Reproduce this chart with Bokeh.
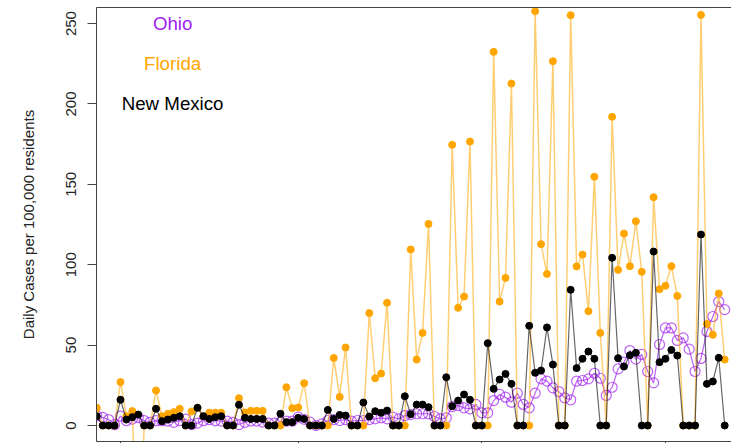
from bokeh.plotting import figure
from bokeh.models import Range1d, FixedTicker, LinearAxis, ColumnDataSource
from bokeh.core.properties import value
from bokeh.embed import file_html
from bokeh.resources import INLINE

# ---- data (day index, daily cases per 100,000 residents) ----
days = list(range(107))

florida = [11, 0, 0, 0, 27, 5.8, 9, -100, 0, 0,
           21.8, 5.8, 7.3, 8.3, 10.4, 0, 8.7, 11, 5.8, 8,
           8, 8, 0, 0, 17, 8.1, 9.1, 9.1, 9.1, 0,
           0, 0, 23.8, 10.8, 11.2, 26.3, 0, 0, 0, 0,
           42, 17.8, 48.5, 0, 0, 0, 69.9, 29.4, 32.3, 76.3,
           0, 0, 0, 109.5, 41, 57.6, 125.4, 0, 0, 0,
           174.6, 73.2, 80.2, 176.6, 0, 0, 0, 232.4, 77.1, 91.8,
           212.7, 0, 0, 0, 257.7, 112.8, 94.3, 226.6, 0, 0,
           255.2, 98.9, 106.3, 71.1, 154.7, 57.6, 0, 192, 96.8, 119.4,
           99.1, 127, 95.6, 0, 142, 84.8, 86.9, 99.1, 80.6, 0,
           0, 0, 255.4, 63.2, 56.4, 82.1, 41]

new_mexico = [5.8, 0, 0, 0, 16, 3.7, 5.2, 6.8, 0, 0,
              10.4, 2.7, 3.7, 4.8, 5.8, 0, 0, 11, 5.8, 4.1,
              5.2, 5.8, 0, 0, 12.9, 4.8, 4.1, 4.1, 4.1, 0,
              0, 7.3, 2.1, 2.1, 4.8, 4.1, 0, 0, 0, 9.7,
              4.1, 6.6, 6.2, 0, 0, 14.3, 5.6, 8.9, 7.9, 9.3,
              0, 0, 18.2, 7, 13, 13, 11.4, 0, 0, 30,
              12, 15.5, 19.3, 16, 0, 0, 51.2, 22.8, 28.6, 32.1,
              25.9, 0, 0, 62, 32.8, 34.2, 61, 37.9, 0, 0,
              84.4, 35.7, 41.5, 46, 41.5, 0, 0, 104.3, 41.9, 36.7,
              43.7, 45.2, 0, 0, 108.2, 39.4, 41.5, 47, 43.5, 0,
              0, 0, 118.8, 25.9, 27.4, 42.1, 0]

ohio = [6, 5, 3.7, 0.5, 5.8, 3, 4, 5, 3, 2,
        3, 3, 2.7, 2, 3, 4, 0.6, 1.5, 3, 3.7,
        3, 2.7, 2.7, 2, 0.6, 2, 2.7, 2.7, 2.1, 1.5,
        1.5, 2.1, 2.7, 2.7, 5.2, 3.9, 2.1, 0, 1, 3.1,
        3.7, 3.1, 3.7, 2.7, 3.1, 3.1, 3.7, 4.1, 4.8, 4.1,
        5.2, 4.1, 6.2, 6.8, 7.3, 7.3, 7.3, 5.6, 4.1, 4.8,
        11.8, 12.4, 11, 10.4, 13.1, 7.9, 7.9, 15.5, 19.3, 17.6,
        14.5, 20.1, 13.1, 11, 20.1, 29, 27.6, 23.4, 21.1, 17.2,
        16, 27.6, 28, 29, 32.5, 29.4, 18.7, 23.8, 35.2, 39.4,
        46.6, 41.3, 44.2, 33.6, 26.5, 50.4, 60.7, 60.7, 52.9, 54.5,
        47.5, 33.6, 41.7, 58.5, 67.8, 77.1, 72.1]

y_ticks = [0, 50, 100, 150, 200, 250]
x_ticks = [4, 34, 65, 96]

legend_names = ["Ohio", "Florida", "New Mexico"]
legend_colors = ["#A020F0", "#FFA500", "#000000"]
legend_y = [250, 225, 200]
legend_x = [12.8, 12.8, 12.8]

FONT = "Liberation Sans"

p = figure(width=731, height=443, output_backend="svg", toolbar_location=None,
           x_range=Range1d(-0.05, 107.15), y_range=Range1d(-9.95, 260),
           min_border_left=96, min_border_right=0, min_border_top=7, min_border_bottom=2,
           background_fill_color="white", border_fill_color="white")
p.outline_line_color = None
p.grid.visible = False

# y axis
ya = p.yaxis[0]
ya.ticker = FixedTicker(ticks=y_ticks)
ya.major_label_orientation = "vertical"
ya.major_label_text_font = FONT
ya.major_label_text_font_size = "15px"
ya.major_label_text_color = "#222222"
ya.major_tick_out = 9
ya.major_tick_in = 0
ya.minor_tick_out = 0
ya.minor_tick_in = 0
ya.major_label_standoff = 11
ya.axis_line_color = "#444444"
ya.major_tick_line_color = "#444444"
ya.axis_label = "Daily Cases per 100,000 residents"
ya.axis_label_text_font = FONT
ya.axis_label_text_font_size = "15px"
ya.axis_label_text_font_style = "normal"
ya.axis_label_text_color = "#222222"
ya.axis_label_standoff = 27

# x axis (its labels fall outside the visible window in the reference)
xa = p.xaxis[0]
xa.ticker = FixedTicker(ticks=x_ticks)
xa.major_label_text_color = None
xa.major_label_standoff = 0
xa.major_tick_out = 2
xa.major_tick_in = 0
xa.minor_tick_out = 0
xa.minor_tick_in = 0
xa.axis_line_color = "#444444"
xa.major_tick_line_color = "#444444"

# top border of the box
top = LinearAxis(ticker=FixedTicker(ticks=[]), major_label_text_color=None,
                 major_label_standoff=0, major_tick_out=0, major_tick_in=0,
                 minor_tick_out=0, minor_tick_in=0, axis_line_color="#444444")
p.add_layout(top, "above")

# Ohio
p.line(days, ohio, line_color="#A020F0", line_width=1.2, line_alpha=0.7)
p.scatter(days, ohio, marker="circle", size=10, fill_color=None,
          line_color="#A020F0", line_alpha=0.7, line_width=1.2)
# Florida
p.line(days, florida, line_color="#FFA500", line_width=1.5, line_alpha=0.55)
p.scatter(days, florida, marker="circle", size=7, fill_color="#FFA500", line_color="#FFA500")
# New Mexico
p.line(days, new_mexico, line_color="#000000", line_width=1.2, line_alpha=0.6)
p.scatter(days, new_mexico, marker="circle", size=7, fill_color="#000000", line_color="#000000")

src = ColumnDataSource(dict(x=legend_x, y=legend_y, t=legend_names, c=legend_colors))
p.text(x="x", y="y", text="t", text_color="c", source=src,
       text_font=value(FONT), text_font_size="18.7px",
       text_align="center", text_baseline="middle")

open("out.html", "w").write(file_html(p, INLINE))
